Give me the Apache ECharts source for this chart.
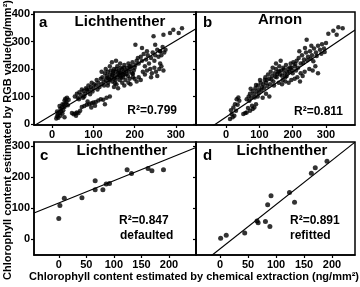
<!DOCTYPE html>
<html>
<head>
<meta charset="utf-8">
<script src="https://cdn.jsdelivr.net/npm/echarts@6/dist/echarts.min.js"></script>
<style>
  html, body { margin: 0; padding: 0; background: #fff; }
  #chart { width: 360px; height: 287px; }
</style>
</head>
<body>
<div id="chart"></div>
<script>
// --- data ---
// panel a: Lichthenther, all samples [chemical, RGB]
const aPoints = [
  [10,20],[12,28],[14,35],[15,22],[18,40],[20,30],[20,55],[22,45],[24,60],[25,38],[27,50],[28,70],
  [30,85],[30,62],[32,92],[33,75],[35,80],[36,95],[38,68],[40,88],[18,65],[25,72],[12,45],[30,24],
  [48,40],[52,35],[56,38],[60,42],[64,40],[68,48],[58,30],
  [72,62],[78,65],[84,70],[90,72],[96,75],[100,78],[106,80],[112,85],[118,90],[124,88],[128,72],
  [132,95],[140,100],[75,95],[95,60],[86,82],[104,66],
  [55,100],[60,110],[62,95],[66,115],[70,105],[72,125],[76,120],[80,110],[82,130],[86,118],[88,140],
  [90,125],[94,135],[96,150],[100,130],[102,145],[106,140],[108,160],[112,150],[115,135],[118,165],
  [120,145],[65,90],[78,100],[84,125],[98,118],[110,125],[92,108],
  [122,170],[125,155],[128,185],[130,160],[132,175],[135,190],[136,150],[138,165],[140,180],[142,195],
  [144,170],[146,155],[148,185],[150,200],[150,165],[152,175],[154,190],[156,145],[158,210],[158,170],
  [160,185],[162,195],[164,160],[165,175],[166,205],[168,185],[170,150],[170,200],[172,170],[174,190],
  [175,215],[176,180],[178,160],[180,195],[182,205],[184,175],[185,220],[186,190],[188,165],[190,200],
  [192,210],[194,185],[195,225],[196,170],[198,195],[200,205],[140,210],[145,225],[130,200],[155,230],
  [160,130],[175,140],[185,150],[150,135],[165,220],[120,190],[135,140],
  [126,140],[134,168],[146,178],[154,160],[162,178],[168,168],[174,205],[180,182],[188,210],[196,182],
  [148,192],[156,200],[164,188],[172,180],[140,160],[152,148],
  [190,145],[200,165],[205,155],[210,170],[215,160],[220,190],[225,180],[230,195],[238,200],[242,185],
  [248,205],[252,190],[255,175],[260,200],[265,210],[270,195],[240,170],[262,220],
  [202,215],[205,230],[208,240],[210,220],[215,245],[218,230],[222,255],[225,210],[228,235],[232,250],
  [235,220],[240,240],[244,260],[248,230],[250,250],[255,270],[258,245],[262,265],[265,250],[268,280],
  [272,260],[275,270],[202,289],[218,277],[230,265],[250,289],[262,265],
  [246,320],[270,325],[286,331],[294,343],[307,331],[315,349]
];
// panel b: Arnon, all samples
const bPoints = [
  [12,18],[17,36],[22,60],[27,72],[32,90],[37,96],[20,24],[30,48],[15,50],[25,30],[35,70],[40,84],
  [52,36],[62,42],[72,48],[80,54],[90,72],[58,40],[85,60],[66,58],[78,66],
  [62,90],[68,100],[72,110],[76,96],[80,120],[84,108],[88,130],[92,118],[96,140],[100,125],[104,150],
  [108,135],[112,145],[116,160],[120,150],[70,84],[95,100],[110,95],[120,110],[130,100],
  [74,128],[86,96],[98,112],[106,122],[114,130],[124,138],[90,142],[102,160],
  [118,170],[122,160],[126,180],[130,165],[134,190],[138,175],[142,155],[146,185],[150,200],[152,170],
  [156,190],[160,210],[162,180],[166,195],[170,160],[172,205],[176,185],[180,215],[182,175],[186,200],
  [190,190],[194,220],[196,205],[200,185],[202,225],[206,210],[210,195],[140,205],[150,220],[164,230],
  [132,145],[144,140],[158,150],[168,145],[136,162],[148,172],[154,182],[168,176],[174,198],[184,188],
  [192,206],[198,196],[208,218],[216,205],[160,192],[178,170],
  [178,155],[188,150],[196,160],[206,165],[214,170],[222,155],[230,175],[224,185],[236,190],[250,200],
  [260,195],[268,210],[276,185],
  [212,230],[218,240],[224,220],[228,250],[234,235],[240,260],[246,245],[252,265],[258,250],[264,275],
  [270,260],[276,285],[282,270],[288,290],[294,275],[300,295],[220,265],[237,277],[242,307],[256,285],
  [232,222],[244,232],[254,238],[262,228],[272,248],[286,256],[296,262],
  [307,329],[322,340],[337,352],[350,349],[332,325]
];
// panel c: default Lichthenther parameters
const cPoints = [
  [0,66],[2,108],[10,131],[42,133],[66,159],[66,188],[80,159],[86,177],[92,179],
  [124,223],[132,211],[162,227],[169,220],[190,223]
];
// panel d: refitted
const dPoints = [
  [1,2],[11,12],[44,19],[66,58],[68,52],[81,56],[89,40],[85,110],[91,139],
  [124,150],[133,118],[163,212],[170,230],[191,251]
];
// regression lines [slope, intercept]
const aFit = [0.90, 33];
const bFit = [0.82, 25];
const cFit = [0.72, 116];
const dFit = [1.43, -32];
// tick labels
const xTicksAB = [0, 100, 200, 300];
const yTicksAB = [0, 100, 200, 300, 400];
const xTicksCD = [0, 50, 100, 150, 200];
const yTicksCD = [0, 100, 200, 300];

// axis windows
const xRange = [[-44, 349], [-90, 387], [-45, 249], [-43, 241]];
const yRange = [[-4, 408], [-4, 408], [-52, 313], [-52, 313]];

const FONT = '"Liberation Sans", Arial, sans-serif';

const chart = echarts.init(document.getElementById('chart'));

const fitLine = (fit, r) => [[r[0], fit[0] * r[0] + fit[1]], [r[1], fit[0] * r[1] + fit[1]]];

const grids = [
  { left: 34, top: 12, width: 162, height: 113 },
  { left: 196, top: 12, width: 159, height: 113 },
  { left: 34, top: 142, width: 162, height: 113 },
  { left: 196, top: 142, width: 159, height: 113 }
];

const xTicks = [xTicksAB, xTicksAB, xTicksCD, xTicksCD];
const yTicks = [yTicksAB, yTicksAB, yTicksCD, yTicksCD];

const axisCommon = (i, ticks, showLabel) => ({
  gridIndex: i,
  type: 'value',
  splitLine: { show: false },
  axisLine: { show: true, onZero: false, lineStyle: { color: '#000', width: 1.5 } },
  axisTick: { show: true, length: 3, customValues: ticks, lineStyle: { color: '#000', width: 1.2 } },
  axisLabel: {
    show: showLabel, customValues: ticks, margin: 4,
    color: '#000', fontFamily: FONT, fontWeight: 'bold', fontSize: 11
  }
});

const xAxes = grids.map((g, i) => Object.assign(axisCommon(i, xTicks[i], true), {
  min: xRange[i][0], max: xRange[i][1]
}));
const yAxes = grids.map((g, i) => Object.assign(axisCommon(i, yTicks[i], i === 0 || i === 2), {
  min: yRange[i][0], max: yRange[i][1]
}));

const pts = [aPoints, bPoints, cPoints, dPoints];
const fits = [aFit, bFit, cFit, dFit];
const series = [];
pts.forEach((p, i) => {
  series.push({
    type: 'scatter', xAxisIndex: i, yAxisIndex: i, data: p,
    symbolSize: i < 2 ? 4.5 : 5, itemStyle: { color: '#000' }, silent: true
  });
  series.push({
    type: 'line', xAxisIndex: i, yAxisIndex: i, data: fitLine(fits[i], xRange[i]),
    symbol: 'none', clip: true, lineStyle: { color: '#000', width: 1.2 }, silent: true
  });
});

const txt = (x, y, text, size, align) => ({
  type: 'text', x: x, y: y,
  style: {
    text: text, fill: '#000', font: 'bold ' + size + 'px ' + FONT,
    align: align || 'left', verticalAlign: 'middle'
  }
});

chart.setOption({
  animation: false,
  grid: grids.map(g => Object.assign({ show: true, borderColor: '#000', borderWidth: 1.5, backgroundColor: 'transparent' }, g)),
  xAxis: xAxes,
  yAxis: yAxes,
  series: series,
  graphic: [
    txt(39, 23, 'a', 15),
    txt(120, 22, 'Lichthenther', 15, 'center'),
    txt(203, 23, 'b', 15),
    txt(280, 20, 'Arnon', 15, 'center'),
    txt(40, 156, 'c', 15),
    txt(122, 151, 'Lichthenther', 15, 'center'),
    txt(203, 156, 'd', 15),
    txt(282, 151, 'Lichthenther', 15, 'center'),
    txt(177, 111, 'R²=0.799', 12, 'right'),
    txt(343, 112, 'R²=0.811', 12, 'right'),
    txt(119, 221, 'R²=0.847', 12),
    txt(120, 236, 'defaulted', 12),
    txt(290, 221, 'R²=0.891', 12),
    txt(290, 236, 'refitted', 12),
    txt(194, 277, 'Chlorophyll content estimated by chemical extraction (ng/mm²)', 11, 'center'),
    {
      type: 'text', x: 8, y: 140, rotation: Math.PI / 2,
      style: {
        text: 'Chlorophyll content estimated by RGB value(ng/mm²)', fill: '#000',
        font: 'bold 11px ' + FONT, align: 'center', verticalAlign: 'middle'
      }
    }
  ]
});
</script>
</body>
</html>
